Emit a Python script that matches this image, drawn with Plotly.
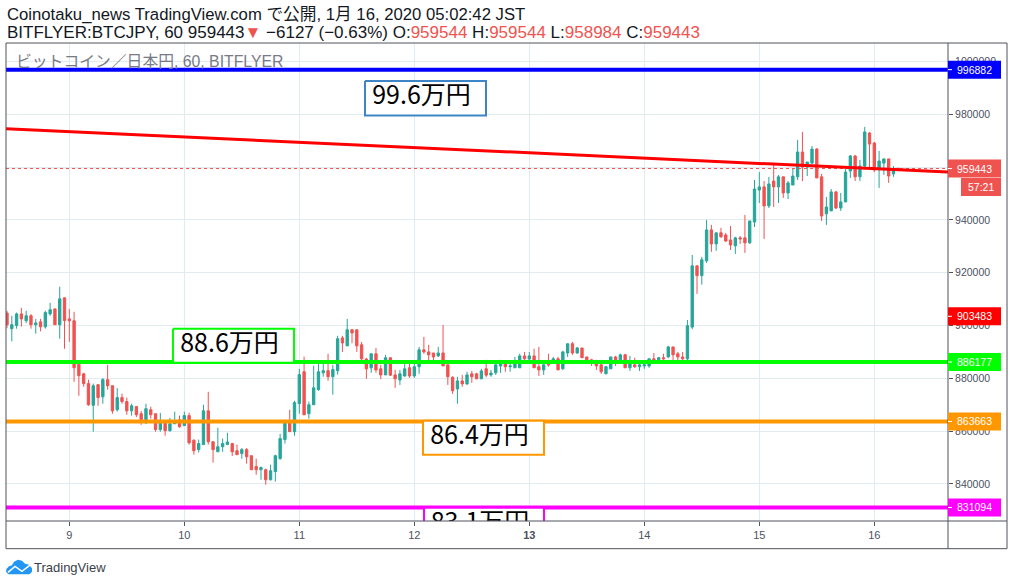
import pandas as pd
import plotly.graph_objects as go

# hourly candles, thousand yen
opens = [904.7,898.8,900.0,904.4,901.8,903.7,900.3,901.4,899.5,904.4,
906.3,900.3,910.5,902.5,901.8,885.3,881.7,878.0,869.8,877.6,
873.0,879.5,877.2,868.1,872.7,871.2,867.7,869.3,866.6,863.1,
868.1,866.6,860.6,863.2,860.2,862.8,864.3,862.1,865.9,856.6,
853.0,854.9,867.7,856.0,852.2,854.1,854.9,855.3,852.6,851.5,
853.0,850.7,846.6,845.4,845.4,841.6,844.7,849.6,856.8,863.2,
859.8,870.4,882.5,866.6,870.0,875.7,882.1,882.9,880.6,882.9,
895.3,892.3,898.4,898.4,892.7,887.3,884.0,889.3,883.6,881.3,
887.8,881.3,879.4,880.9,884.0,880.9,884.4,890.8,890.0,889.6,
888.5,889.6,885.1,880.4,876.0,879.0,877.9,881.7,881.7,879.8,
883.6,881.3,882.1,884.7,885.9,884.4,884.0,884.0,888.5,887.3,
888.5,884.4,883.2,885.5,886.6,887.4,883.6,889.6,893.1,889.6,
891.5,888.1,887.0,885.5,885.1,881.7,883.6,888.1,887.0,888.9,
884.0,885.1,884.4,884.7,884.7,887.4,887.0,887.8,888.1,891.9,
889.3,888.1,887.4,
899.4,922.6,918.9,924.5,936.2,930.9,935.1,934.3,932.4,930.2,
933.2,933.2,931.3,939.2,951.3,952.5,945.3,954.7,952.5,956.3,
950.2,953.2,956.3,965.7,960.0,961.5,966.8,956.3,942.3,943.4,
950.6,944.5,946.8,958.5,964.2,956.3,960.4,972.9,969.1,959.3,
961.5,963.1,957.4,959.544]
highs = [905.6,903.7,904.9,906.7,905.6,904.3,902.5,902.5,905.6,908.6,
906.3,914.7,910.5,906.3,905.2,885.3,882.1,879.5,878.0,877.6,
880.1,885.1,877.2,876.3,874.2,872.7,870.4,869.3,867.7,870.4,
869.3,866.6,866.9,864.1,865.0,867.4,865.9,867.4,867.0,856.8,
856.8,870.0,874.9,856.0,861.3,857.2,859.4,855.6,854.9,853.6,
853.6,850.7,849.6,846.6,845.8,847.3,851.1,859.0,864.3,868.1,
871.5,883.6,888.2,871.2,884.8,885.5,885.9,889.3,885.1,896.1,
896.1,902.5,898.7,898.4,893.8,887.8,889.3,891.5,885.1,888.9,
887.8,883.2,883.2,885.5,885.5,885.5,891.9,895.7,892.7,889.6,
891.9,900.2,885.1,880.8,880.6,881.3,882.5,882.8,882.1,883.6,
887.0,883.2,885.9,887.0,885.9,885.9,888.1,889.3,890.0,890.0,
891.2,891.9,885.5,889.3,888.1,888.1,890.4,893.1,893.8,891.9,
891.5,888.1,887.4,887.0,887.0,884.7,888.1,888.5,889.3,889.3,
888.5,887.8,885.9,886.2,887.4,889.6,888.1,889.3,892.3,891.9,
890.0,890.0,902.1,
926.7,922.6,926.0,940.0,938.1,935.1,937.0,935.1,937.7,933.6,
933.9,941.9,939.6,955.1,958.1,954.7,956.3,960.8,957.0,956.3,
954.7,959.3,970.3,973.3,961.9,968.0,967.2,957.4,948.7,951.7,
951.0,950.2,959.3,964.6,964.6,962.7,975.2,973.3,969.5,966.1,
963.1,963.1,960.4,959.544]
lows = [899.0,894.0,898.8,899.6,900.9,898.8,896.9,897.8,898.8,903.7,
900.3,895.0,891.2,893.8,878.7,873.4,876.8,869.6,859.8,869.6,
870.4,875.7,866.6,867.4,870.4,866.2,865.9,865.3,862.4,862.8,
864.7,859.8,859.8,858.3,859.8,862.8,861.3,862.1,854.9,851.1,
851.9,854.9,854.9,848.1,852.2,852.2,854.9,850.6,851.1,849.6,
847.7,845.4,843.5,841.6,839.7,841.3,840.9,849.2,855.3,859.8,
858.3,866.6,866.2,864.7,870.0,875.3,880.6,879.1,873.8,881.4,
890.0,892.3,893.3,890.0,886.2,879.8,882.1,882.1,879.7,881.3,
880.9,876.4,877.5,880.6,880.2,880.2,881.7,889.3,885.5,886.6,
888.1,884.7,877.5,874.1,870.4,876.8,877.5,878.3,879.8,879.8,
880.4,880.6,881.3,882.1,882.5,882.5,884.0,884.0,887.0,886.2,
884.0,880.9,881.3,884.4,886.2,883.2,883.2,888.1,888.9,889.3,
887.8,886.2,884.7,883.2,881.7,881.7,883.6,884.7,886.6,884.0,
882.8,884.0,882.8,883.6,884.0,886.6,886.6,887.0,887.8,886.6,
886.6,886.6,886.6,
898.6,912.0,915.5,923.7,927.9,928.3,933.2,931.7,928.6,927.1,
930.9,927.5,930.9,937.3,946.4,932.8,944.5,944.9,946.4,948.3,
947.9,953.2,955.1,954.7,956.6,961.2,955.9,939.6,938.1,943.4,
944.1,943.4,946.8,955.9,954.7,954.7,960.0,959.7,958.1,952.1,
957.0,954.0,956.3,958.984]
closes = [900.3,900.3,904.4,902.5,903.7,900.3,901.0,899.5,904.9,906.0,
900.3,910.1,901.9,901.8,884.0,881.0,878.0,870.0,877.2,872.7,
879.5,877.2,867.7,872.7,871.2,867.7,869.6,866.2,864.3,868.5,
866.2,860.6,864.0,860.2,862.8,863.1,861.7,865.9,855.6,852.6,
855.3,867.7,856.0,853.0,854.1,855.3,855.9,852.2,851.1,853.0,
850.3,845.4,845.4,846.2,841.6,845.0,850.7,857.2,863.2,859.8,
870.8,881.4,866.2,870.0,876.4,882.5,882.9,880.6,883.3,895.0,
893.4,898.4,897.2,892.3,887.4,883.6,889.3,883.2,881.3,887.8,
881.2,879.8,881.7,883.6,880.9,884.4,890.8,890.0,888.9,888.1,
889.6,884.7,880.6,875.3,879.0,877.9,881.3,880.6,879.8,882.8,
881.2,882.0,885.1,885.9,884.4,884.7,885.5,888.5,887.4,888.5,
884.0,883.2,885.1,885.1,887.4,883.2,890.0,893.1,889.6,891.5,
887.8,887.0,886.6,884.7,882.5,884.4,888.1,886.6,888.9,884.0,
885.5,884.4,885.1,885.1,887.4,886.6,887.8,887.4,891.9,888.9,
888.1,887.4,899.9,
922.6,918.9,924.9,936.2,930.9,935.1,933.6,932.0,930.5,933.2,
932.8,931.3,939.6,951.7,952.5,945.3,953.6,952.5,956.3,950.2,
954.0,956.6,965.7,960.0,961.9,966.8,955.9,941.5,944.9,950.6,
944.5,946.8,958.1,964.2,956.3,960.4,973.3,968.7,958.9,962.3,
963.1,956.6,959.3,959.443]

day_ticks = ["2020-01-09", "2020-01-10", "2020-01-11", "2020-01-12",
             "2020-01-13", "2020-01-14", "2020-01-15", "2020-01-16"]
day_labels = ["9", "10", "11", "12", "<b>13</b>", "14", "15", "16"]
price_ticks = [840000, 860000, 880000, 900000, 920000, 940000, 960000, 980000, 1000000]

level_values = [996882, 886177, 863663, 831094]
level_colors = ["#0000ff", "#00ff00", "#ff9800", "#ff00ff"]
last_price = 959443
trend_values = [974500, 958100]
red_label_value = 903483

box_texts = ["99.6万円", "88.6万円", "86.4万円", "83.1万円"]
box_colors = ["#3d85c6", "#00ff00", "#ff9800", "#ff00ff"]
# left, right, top, bottom in pixels of the page
box_pixels = [(365, 486, 81, 115.5), (173, 294, 329, 363), (423, 544, 421, 455), (424, 544, 508, 542)]

UP = "#26a69a"
DOWN = "#ef5350"
TEXT = "#4c525e"
FONT = "Liberation Sans, Noto Sans CJK JP, sans-serif"

# page geometry
L, R, T, B = 6, 948, 43, 521.3
W, H = 1014, 586


def x_at(px):
    return pd.Timestamp("2020-01-09") + pd.Timedelta(hours=(px - 69.3) / (115 / 24))


def y_at(py):
    return 980000 - (py - 114.3) / 0.0026425


def xp(px):
    return (px - L) / (R - L)


def yp(py):
    return 1 - (py - T) / (B - T)


def note(px, py, text, color, size, anchor="left", yref="paper"):
    return dict(xref="paper", yref=yref, x=xp(px), y=yp(py) if yref == "paper" else py,
                xanchor=anchor, yanchor="middle", text=text, showarrow=False,
                font=dict(family=FONT, size=size, color=color))


times = pd.date_range("2020-01-08 11:00", periods=len(opens), freq="h")

fig = go.Figure()

fig.add_trace(go.Candlestick(
    x=times,
    open=[v * 1000 for v in opens],
    high=[v * 1000 for v in highs],
    low=[v * 1000 for v in lows],
    close=[v * 1000 for v in closes],
    increasing=dict(line=dict(color=UP, width=1), fillcolor=UP),
    decreasing=dict(line=dict(color=DOWN, width=1), fillcolor=DOWN),
    whiskerwidth=0,
    showlegend=False,
))

x_ends = [x_at(L), x_at(R)]

# last price dotted line
fig.add_trace(go.Scatter(x=x_ends, y=[last_price, last_price], mode="lines",
                         line=dict(color=DOWN, width=1, dash="dot"), showlegend=False))

# trend line
fig.add_trace(go.Scatter(x=x_ends, y=trend_values, mode="lines",
                         line=dict(color="#ff0000", width=3), showlegend=False))

# horizontal levels
for val, col in zip(level_values, level_colors):
    fig.add_trace(go.Scatter(x=x_ends, y=[val, val], mode="lines",
                             line=dict(color=col, width=4), showlegend=False))

# boxed notes, as traces so the last one gets clipped by the axis
for txt, col, (x0, x1, y0, y1) in zip(box_texts, box_colors, box_pixels):
    fig.add_trace(go.Scatter(
        x=[x_at(x0), x_at(x1), x_at(x1), x_at(x0), x_at(x0)],
        y=[y_at(y0), y_at(y0), y_at(y1), y_at(y1), y_at(y0)],
        mode="lines", fill="toself", fillcolor="white",
        line=dict(color=col, width=2), showlegend=False))
    fig.add_trace(go.Scatter(
        x=[x_at((x0 + x1) / 2 - 4)], y=[y_at((y0 + y1) / 2)],
        mode="text", text=[txt], textposition="middle center",
        textfont=dict(family="Noto Sans CJK JP", size=25, color="black"),
        cliponaxis=True, showlegend=False))

shapes = []
annotations = []

# frame
frame = "#50535e"
for a, b, c, d in [(L, T, 1007, T), (L, T, L, 549), (L, 549, 1007, 549), (1007, T, 1007, 549),
                   (L, B, 1007, B), (R, T, R, 549)]:
    shapes.append(dict(type="line", xref="paper", yref="paper",
                       x0=xp(a), y0=yp(b), x1=xp(c), y1=yp(d),
                       line=dict(color=frame, width=1)))

# price labels on the right
labels = list(zip(level_values, level_colors)) + [(last_price, DOWN), (red_label_value, "#ff0000")]
half = 9 / 2.6425 * 1000
for val, col in labels:
    shapes.append(dict(type="rect", xref="paper", yref="y", x0=xp(R), x1=xp(1001),
                       y0=val - half, y1=val + half, fillcolor=col, line=dict(width=0)))
    shapes.append(dict(type="line", xref="paper", yref="y", x0=xp(R), x1=xp(952),
                       y0=val, y1=val, line=dict(color="white", width=1)))
    annotations.append(note(974.5, val, str(val), "white", 10.5, anchor="center", yref="y"))

# countdown box
shapes.append(dict(type="rect", xref="paper", yref="paper", x0=xp(961), x1=xp(1001),
                   y0=yp(196), y1=yp(178), fillcolor=DOWN, line=dict(width=0)))
annotations.append(note(981, 187, "57:21", "white", 10.5, anchor="center"))

# header
annotations.append(note(4.5, 14, "Coinotaku_news TradingView.com で公開, 1月 16, 2020 05:02:42 JST", "#131722", 16.7))
red = '<span style="color:#ef5350">%s</span>'
annotations.append(note(4.5, 32, "BITFLYER:BTCJPY, 60 959443" + red % "▼" + " −6127 (−0.63%) O:" + red % "959544"
                        + " H:" + red % "959544" + " L:" + red % "958984" + " C:" + red % "959443",
                        "#131722", 17))
annotations.append(note(14, 62, "ビットコイン／日本円, 60, BITFLYER", "#787b86", 15.8))

# logo
cloud = [(6, 572), (6.5, 569), (9, 566.5), (12, 565.5), (14, 562), (18, 560), (22, 561), (25, 564),
         (29, 565), (32, 568.5), (32, 572), (29.5, 574.7), (8.5, 574.7)]
path = "M " + " L ".join(f"{xp(a)},{yp(b)}" for a, b in cloud) + " Z"
shapes.append(dict(type="path", xref="paper", yref="paper", path=path,
                   fillcolor="#2196f3", line=dict(width=0)))
zig = [(8, 572.7), (15, 566.7), (22, 571.7), (30, 565.5)]
path = "M " + " L ".join(f"{xp(a)},{yp(b)}" for a, b in zig)
shapes.append(dict(type="path", xref="paper", yref="paper", path=path,
                   line=dict(color="white", width=1.5)))
annotations.append(note(32, 567.5, "TradingView", "#3a3e4a", 13))

fig.update_layout(
    width=W, height=H,
    margin=dict(l=L, r=W - R, t=T, b=H - B, pad=0),
    paper_bgcolor="white", plot_bgcolor="white",
    shapes=shapes, annotations=annotations, showlegend=False,
    font=dict(family=FONT, color=TEXT),
    xaxis=dict(
        type="date", range=[x_ends[0], x_ends[1]], rangeslider=dict(visible=False),
        tickvals=day_ticks, ticktext=day_labels, tickfont=dict(size=11, color=TEXT),
        ticks="outside", ticklen=4, tickcolor=frame, showgrid=True, gridcolor="#e1ecf2",
        gridwidth=1, showline=False, zeroline=False,
    ),
    yaxis=dict(
        side="right", range=[y_at(B), y_at(T)], tickvals=price_ticks,
        ticktext=[str(v) for v in price_ticks], tickfont=dict(size=10.5, color=TEXT),
        ticks="outside", ticklen=4, tickcolor=frame, showgrid=True, gridcolor="#e1ecf2",
        gridwidth=1, showline=False, zeroline=False,
    ),
)

fig.write_html("out.html", config=dict(displayModeBar=False),
               post_script="document.body.style.margin='0';")
